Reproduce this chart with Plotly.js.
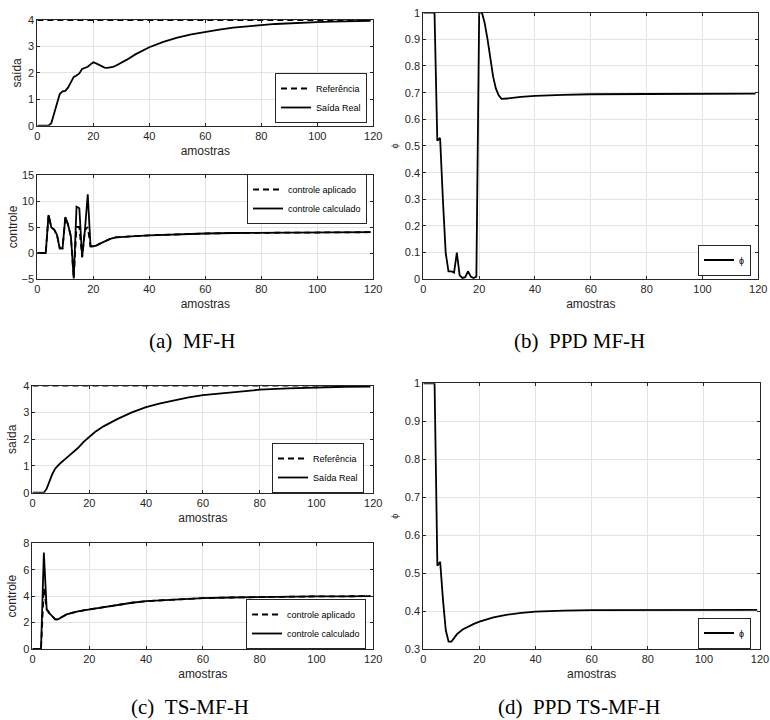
<!DOCTYPE html>
<html>
<head>
<meta charset="utf-8">
<script src="https://cdn.plot.ly/plotly-3.0.1.min.js"></script>
<style>html,body{margin:0;padding:0;background:#fff;}#chart{width:770px;height:720px;}</style>
</head>
<body>
<div id="chart"></div>
<script>
// ---------- (a) MF-H : saída ----------
const refX = [0, 119];
const refY = [4, 4];
const aOutX = [0,4,5,6,7,8,9,10,11,12,13,14,15,16,17,18,19,20,21,22,23,24,25,26,27,28,30,32,35,40,45,50,55,60,65,70,75,80,85,90,95,100,105,110,115,119];
const aOutY = [0,0,0.1,0.5,0.9,1.2,1.3,1.32,1.45,1.65,1.85,1.9,1.98,2.15,2.2,2.23,2.32,2.4,2.36,2.3,2.24,2.2,2.19,2.2,2.23,2.27,2.38,2.5,2.7,2.97,3.17,3.33,3.46,3.56,3.64,3.71,3.77,3.81,3.85,3.88,3.9,3.92,3.94,3.95,3.96,3.97];
// ---------- (a) MF-H : controle ----------
const aCtlX = [0,3,4,5,6,7,8,9,10,11,12,13,14,15,16,17,18,19,20,21,22,24,26,28,30,35,40,50,60,70,80,90,100,110,119];
const aCtlCalc = [0,0,7.3,4.9,4.5,3.5,0.9,0.9,6.9,5.4,3.1,-4.9,8.9,8.6,-0.8,4.4,11.3,1.3,1.3,1.4,1.7,2.2,2.7,3.0,3.1,3.25,3.4,3.6,3.75,3.85,3.9,3.95,3.97,3.99,4.0];
const aCtlApl  = [0,0,7.3,4.9,4.5,3.5,0.9,0.9,6.9,5.4,3.1,-4.9,5.0,5.0,-0.8,4.4,5.0,1.3,1.3,1.4,1.7,2.2,2.7,3.0,3.1,3.25,3.4,3.6,3.75,3.85,3.9,3.95,3.97,3.99,4.0];
// ---------- (b) PPD MF-H ----------
const bX = [0,4,5,6,7,8,9,10,11,12,13,14,15,16,17,18,19,20,21,22,23,24,25,26,27,28,30,35,40,50,60,80,100,119];
const bPhi = [1,1,0.52,0.53,0.3,0.1,0.03,0.03,0.025,0.1,0.015,0.005,0.008,0.03,0.01,0.005,0.01,1,1,0.96,0.9,0.82,0.76,0.715,0.69,0.677,0.678,0.684,0.688,0.692,0.694,0.695,0.696,0.696];
// ---------- (c) TS-MF-H : saída ----------
const cOutX = [0,4,5,6,7,8,9,10,12,14,16,18,20,22,25,28,30,35,40,45,50,55,60,70,80,90,100,110,119];
const cOutY = [0,0,0.15,0.45,0.7,0.9,1.02,1.12,1.3,1.48,1.67,1.9,2.1,2.27,2.48,2.66,2.76,3.0,3.2,3.34,3.46,3.56,3.65,3.76,3.85,3.9,3.94,3.96,3.97];
// ---------- (c) TS-MF-H : controle ----------
const cCtlX = [0,3,4,5,6,7,8,9,10,11,12,14,16,18,20,25,30,35,40,50,60,70,80,90,100,110,119];
const cCtlCalc = [0,0,7.3,3.0,2.7,2.45,2.25,2.25,2.35,2.5,2.62,2.75,2.85,2.93,3.0,3.2,3.35,3.5,3.62,3.76,3.85,3.9,3.94,3.96,3.98,3.99,4.0];
const cCtlApl  = [0,0,4.6,3.0,2.7,2.45,2.25,2.25,2.35,2.5,2.62,2.75,2.85,2.93,3.0,3.2,3.35,3.5,3.62,3.76,3.85,3.9,3.94,3.96,3.98,3.99,4.0];
// ---------- (d) PPD TS-MF-H ----------
const dX = [0,4,5,6,7,8,9,10,11,12,14,16,18,20,25,30,35,40,50,60,80,100,119];
const dPhi = [1,1,0.52,0.53,0.43,0.35,0.32,0.32,0.33,0.34,0.352,0.36,0.367,0.373,0.384,0.391,0.396,0.399,0.402,0.403,0.404,0.404,0.404];

const captions = ['(a)\u00A0\u00A0MF-H', '(b)\u00A0\u00A0PPD MF-H', '(c)\u00A0\u00A0TS-MF-H', '(d)\u00A0\u00A0PPD TS-MF-H'];
const PHI = '\u03D5';

const INK = '#262626';
const LW = 1.8;
const DASH = '6px,4px';
const solid = {color:'#000', width:LW};
const dashed = {color:'#000', width:LW, dash:DASH};

const traces = [
  {x:refX, y:refY, xaxis:'x', yaxis:'y', mode:'lines', line:dashed, name:'Referência', legend:'legend'},
  {x:aOutX, y:aOutY, xaxis:'x', yaxis:'y', mode:'lines', line:solid, name:'Saída Real', legend:'legend'},
  {x:aCtlX, y:aCtlApl, xaxis:'x2', yaxis:'y2', mode:'lines', line:dashed, name:'controle aplicado', legend:'legend2'},
  {x:aCtlX, y:aCtlCalc, xaxis:'x2', yaxis:'y2', mode:'lines', line:solid, name:'controle calculado', legend:'legend2'},
  {x:bX, y:bPhi, xaxis:'x3', yaxis:'y3', mode:'lines', line:solid, name:PHI, legend:'legend3'},
  {x:refX, y:refY, xaxis:'x4', yaxis:'y4', mode:'lines', line:dashed, name:'Referência', legend:'legend4'},
  {x:cOutX, y:cOutY, xaxis:'x4', yaxis:'y4', mode:'lines', line:solid, name:'Saída Real', legend:'legend4'},
  {x:cCtlX, y:cCtlApl, xaxis:'x5', yaxis:'y5', mode:'lines', line:dashed, name:'controle aplicado', legend:'legend5'},
  {x:cCtlX, y:cCtlCalc, xaxis:'x5', yaxis:'y5', mode:'lines', line:solid, name:'controle calculado', legend:'legend5'},
  {x:dX, y:dPhi, xaxis:'x6', yaxis:'y6', mode:'lines', line:solid, name:PHI, legend:'legend6'}
];

const FAM = 'Liberation Sans, Arial, sans-serif';
const tickFont = {family:FAM, size:11, color:INK};
const titleFont = {family:FAM, size:12, color:INK};
const phiFont = {family:FAM, size:9, color:INK};
function ax(extra){
  return Object.assign({
    showline:true, linecolor:INK, linewidth:1, mirror:'ticks',
    ticks:'inside', ticklen:3, tickcolor:INK, tickwidth:1,
    showgrid:true, gridcolor:'#e4e4e4', gridwidth:1, zeroline:false,
    tickfont:tickFont, fixedrange:true
  }, extra);
}
function xax(domain, anchor){
  return ax({domain:domain, anchor:anchor, range:[0,120], tickvals:[0,20,40,60,80,100,120],
    title:{text:'amostras', font:titleFont, standoff:5}});
}
const xa = [0.0485, 0.4848];
const xb = [0.5498, 0.9848];
const xc = [0.0422, 0.4848];
const xd = [0.5498, 0.987];

function leg(x, yc, fs){
  return {x:x, y:1-yc/720, xanchor:'right', yanchor:'middle', bgcolor:'#fff', bordercolor:INK, borderwidth:1,
    font:{family:FAM, size:fs, color:'#000'}, tracegroupgap:0, itemwidth:30};
}

const layout = {
  width:770, height:720, margin:{l:0,r:0,t:0,b:0},
  paper_bgcolor:'#fff', plot_bgcolor:'#fff',
  xaxis: xax(xa, 'y'),
  yaxis: ax({domain:[0.8254,0.9722], anchor:'x', range:[0,4], tickvals:[0,1,2,3,4], title:{text:'saída', font:titleFont, standoff:3}}),
  xaxis2: xax(xa, 'y2'),
  yaxis2: ax({domain:[0.6125,0.7569], anchor:'x2', range:[-5,15], tickvals:[-5,0,5,10,15], title:{text:'controle', font:titleFont, standoff:1}}),
  xaxis3: xax(xb, 'y3'),
  yaxis3: ax({domain:[0.6121,0.9824], anchor:'x3', range:[0,1], tickvals:[0,0.1,0.2,0.3,0.4,0.5,0.6,0.7,0.8,0.9,1], ticktext:['0','0.1','0.2','0.3','0.4','0.5','0.6','0.7','0.8','0.9','1'], title:{text:PHI, font:phiFont, standoff:4}}),
  xaxis4: xax(xc, 'y4'),
  yaxis4: ax({domain:[0.3157,0.4643], anchor:'x4', range:[0,4], tickvals:[0,1,2,3,4], title:{text:'saída', font:titleFont, standoff:3}}),
  xaxis5: xax(xc, 'y5'),
  yaxis5: ax({domain:[0.0986,0.2454], anchor:'x5', range:[0,8], tickvals:[0,2,4,6,8], title:{text:'controle', font:titleFont, standoff:3}}),
  xaxis6: xax(xd, 'y6'),
  yaxis6: ax({domain:[0.0982,0.4676], anchor:'x6', range:[0.3,1], tickvals:[0.3,0.4,0.5,0.6,0.7,0.8,0.9,1], ticktext:['0.3','0.4','0.5','0.6','0.7','0.8','0.9','1'], title:{text:PHI, font:phiFont, standoff:4}}),
  legend:  leg(367/770, 98, 9),
  legend2: leg(367/770, 199, 9),
  legend3: leg(751/770, 260, 9),
  legend4: leg(364/770, 468, 9),
  legend5: leg(366/770, 624, 9),
  legend6: leg(751/770, 633, 9),
  showlegend:true,
  annotations: [
    {text:captions[0], x:192/770, y:1-341/720, yanchor:'middle'},
    {text:captions[1], x:579/770, y:1-341/720, yanchor:'middle'},
    {text:captions[2], x:190/770, y:0, yanchor:'bottom'},
    {text:captions[3], x:579/770, y:0, yanchor:'bottom'}
  ].map(a => Object.assign({xref:'paper', yref:'paper', xanchor:'center', showarrow:false, borderpad:0,
    font:{family:'Liberation Serif, Times New Roman, serif', size:21, color:'#000'}}, a))
};

Plotly.newPlot('chart', traces, layout, {staticPlot:true, displayModeBar:false});
</script>
</body>
</html>
